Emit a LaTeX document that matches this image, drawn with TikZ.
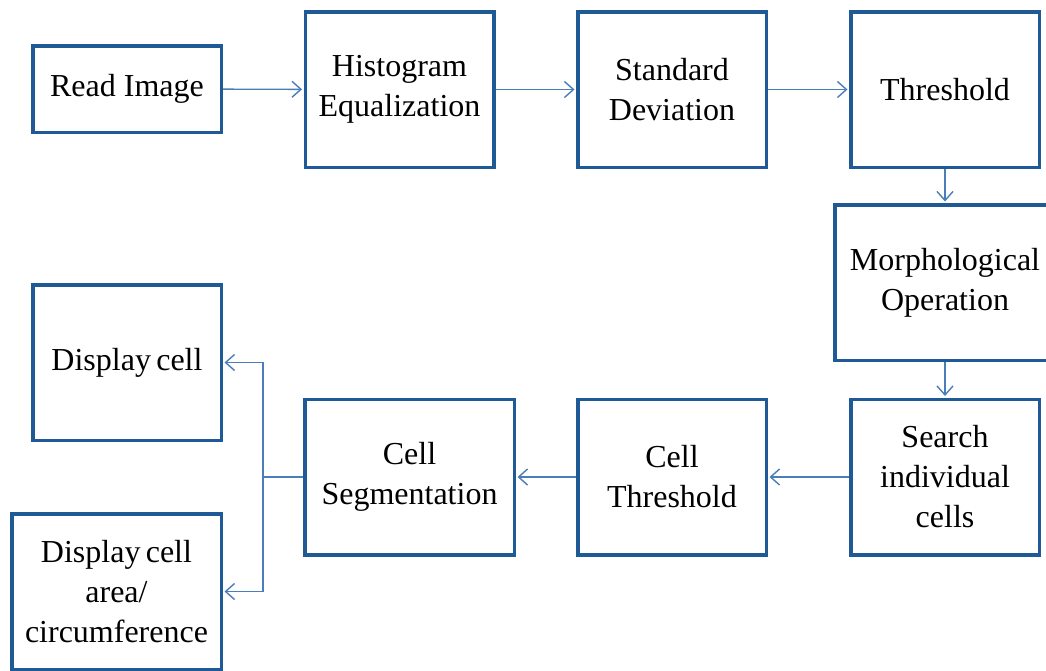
\documentclass[tikz,border=0pt]{standalone}
\usepackage{fontspec}
\setmainfont{Liberation Serif}
\usetikzlibrary{arrows.meta}
\definecolor{boxblue}{HTML}{1F5A96}
\definecolor{linkblue}{HTML}{4A7EBB}
\begin{document}
\begin{tikzpicture}[x=1pt,y=-1pt,
  stage/.style={draw=boxblue, line width=3.5pt, fill=white, inner sep=0pt,
    align=center, minimum width=188.5pt, minimum height=155.5pt,
    font=\fontsize{32}{40}\selectfont},
  wire/.style={draw=linkblue, line width=1.4pt},
  link/.style={wire, shorten >=1.5pt,
    -{Straight Barb[length=9pt,width=16pt,line width=1.4pt]}}]
\clip (0,0) rectangle (1046,670);
\fill[white] (0,0) rectangle (1046,670);

% top row
\node[stage, minimum height=86.5pt] (read) at (127,89) {Read Image};
\node[stage] (hist) at (399.5,89.5) {Histogram\\Equalization};
\node[stage] (std) at (672,89.5) {Standard\\Deviation};
\node[stage] (thr) at (945,89.5) {Threshold};

% right column
\node[stage, minimum width=220pt] (morph) at (945,282.5) {Morphological\\Operation};
\node[stage] (search) at (945,477) {Search\\individual\\cells};

% bottom row
\node[stage] (cthr) at (672,477) {Cell\\Threshold};
\node[stage, minimum width=209.5pt] (cseg) at (409.5,477) {Cell\\Segmentation};

% outputs
\node[stage] (disp) at (127,362.5) {Display\,cell};
\node[stage, minimum width=209.5pt] (area) at (116.5,591.5) {Display\,cell\\area/\\circumference};

% connectors
\draw[link] (read) -- (hist);
\draw[link] (hist) -- (std);
\draw[link] (std) -- (thr);
\draw[link] (thr) -- (morph);
\draw[link] (morph) -- (search);
\draw[link] (search) -- (cthr);
\draw[link] (cthr) -- (cseg);

\coordinate (fork) at (263,477);
\draw[wire] (cseg.west) -- (fork);
\draw[link] (fork) |- (disp.east);
\draw[link] (fork) |- (area.east);
\end{tikzpicture}
\end{document}
